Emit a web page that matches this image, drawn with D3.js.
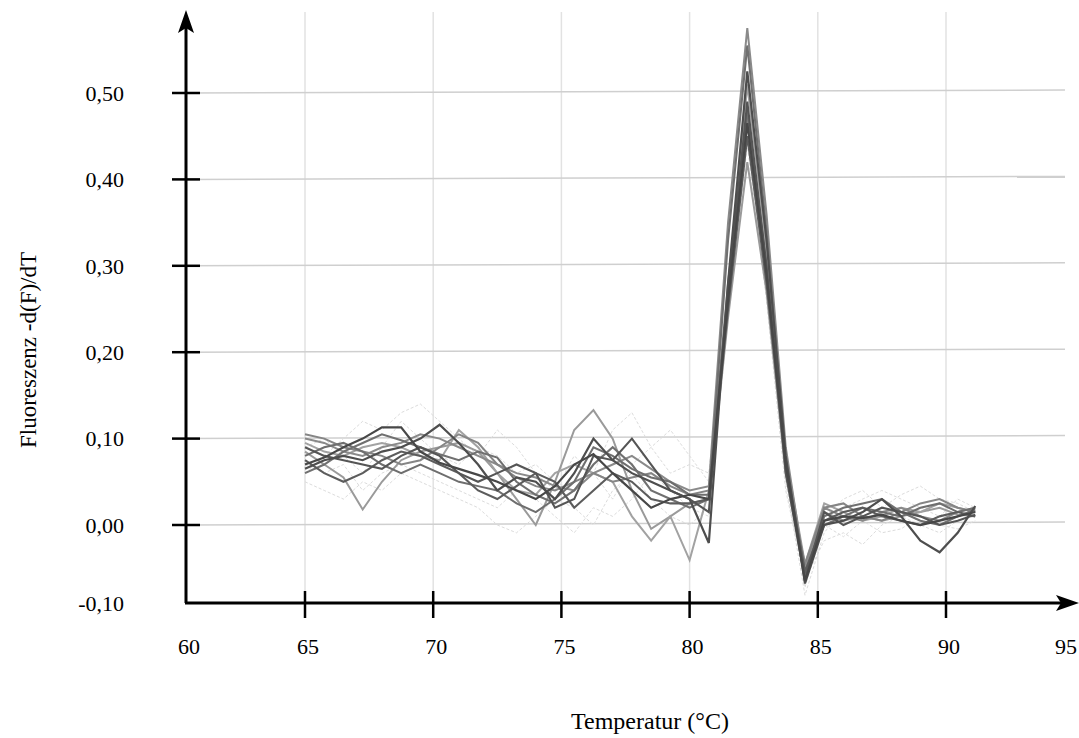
<!DOCTYPE html>
<html>
<head>
<meta charset="utf-8">
<script src="https://cdn.jsdelivr.net/npm/d3@7"></script>
<style>
  body { margin: 0; background: #fff; }
  svg { display: block; }
  text { font-family: "Liberation Serif", "Times New Roman", serif; fill: #000; }
</style>
</head>
<body>
<svg width="1079" height="738"></svg>
<script>
// temperatures (°C) of the measured points
var temps = [65, 65.75, 66.5, 67.25, 68, 68.75, 69.5, 70.25, 71, 71.75, 72.5, 73.25,
  74, 74.75, 75.5, 76.25, 77, 77.75, 78.5, 79.25, 80, 80.75, 81.5, 82.25,
  83, 83.75, 84.5, 85.25, 86, 86.75, 87.5, 88.25, 89, 89.75, 90.5, 91.25];

var xTicks = [60, 65, 70, 75, 80, 85, 90, 95];
var yTicks = [-0.1, 0, 0.1, 0.2, 0.3, 0.4, 0.5];

// melt curves, -d(F)/dT
var s1 = [0.070, 0.078, 0.090, 0.100, 0.113, 0.113, 0.085, 0.072, 0.065, 0.058, 0.050, 0.040, 0.030, 0.045, 0.070, 0.082, 0.060, 0.040, 0.020, 0.030, 0.035, 0.030, 0.26, 0.465, 0.29, 0.07, -0.072, 0.005, 0.010, 0.008, 0.012, 0.005, 0.000, 0.005, 0.010, 0.015];
var s2 = [0.085, 0.070, 0.055, 0.018, 0.050, 0.075, 0.085, 0.090, 0.095, 0.085, 0.060, 0.030, 0.000, 0.050, 0.110, 0.133, 0.100, 0.040, -0.005, 0.010, 0.025, 0.030, 0.24, 0.42, 0.27, 0.06, -0.055, 0.015, 0.005, 0.010, 0.005, 0.010, 0.015, 0.020, 0.012, 0.010];
var s3 = [0.065, 0.075, 0.080, 0.075, 0.085, 0.090, 0.100, 0.116, 0.095, 0.070, 0.040, 0.055, 0.050, 0.030, 0.060, 0.100, 0.075, 0.060, 0.050, 0.040, 0.030, -0.023, 0.28, 0.525, 0.33, 0.08, -0.075, 0.000, 0.005, 0.015, 0.030, 0.010, -0.020, -0.035, -0.010, 0.022];
var s4 = [0.100, 0.095, 0.085, 0.080, 0.090, 0.095, 0.105, 0.100, 0.090, 0.080, 0.070, 0.060, 0.055, 0.045, 0.040, 0.060, 0.070, 0.080, 0.065, 0.050, 0.040, 0.045, 0.35, 0.575, 0.36, 0.09, -0.06, 0.020, 0.010, 0.005, 0.015, 0.020, 0.010, 0.005, 0.015, 0.020];
var s5 = [0.060, 0.070, 0.085, 0.095, 0.105, 0.098, 0.090, 0.082, 0.075, 0.085, 0.078, 0.050, 0.035, 0.025, 0.040, 0.070, 0.090, 0.070, 0.040, 0.030, 0.020, 0.030, 0.33, 0.555, 0.34, 0.07, -0.065, 0.010, 0.020, 0.025, 0.030, 0.015, 0.005, 0.000, 0.010, 0.018];
var s6 = [0.090, 0.080, 0.075, 0.070, 0.065, 0.080, 0.090, 0.080, 0.060, 0.050, 0.060, 0.070, 0.060, 0.020, 0.030, 0.080, 0.075, 0.100, 0.070, 0.040, 0.030, 0.015, 0.27, 0.49, 0.30, 0.06, -0.07, 0.015, 0.000, 0.010, 0.020, 0.015, 0.010, 0.000, 0.005, 0.012];
var s7 = [0.105, 0.100, 0.090, 0.085, 0.080, 0.070, 0.075, 0.090, 0.105, 0.095, 0.070, 0.055, 0.045, 0.040, 0.050, 0.060, 0.050, 0.055, 0.060, 0.045, 0.035, 0.040, 0.26, 0.47, 0.29, 0.06, -0.05, 0.020, 0.025, 0.010, 0.005, 0.015, 0.025, 0.030, 0.020, 0.015];
var s8 = [0.075, 0.060, 0.050, 0.060, 0.075, 0.085, 0.080, 0.070, 0.060, 0.040, 0.030, 0.045, 0.060, 0.050, 0.020, 0.040, 0.060, 0.050, 0.030, 0.025, 0.025, 0.030, 0.25, 0.45, 0.28, 0.07, -0.06, 0.005, 0.015, 0.020, 0.010, 0.005, 0.000, 0.010, 0.015, 0.010];
var s9 = [0.095, 0.085, 0.080, 0.090, 0.095, 0.090, 0.080, 0.075, 0.110, 0.090, 0.060, 0.040, 0.035, 0.060, 0.070, 0.060, 0.050, 0.010, -0.020, 0.010, -0.045, 0.040, 0.26, 0.51, 0.32, 0.08, -0.05, 0.025, 0.015, 0.005, 0.010, 0.020, 0.015, 0.025, 0.020, 0.015];
var s10 = [0.080, 0.090, 0.095, 0.085, 0.070, 0.060, 0.070, 0.060, 0.050, 0.045, 0.040, 0.025, 0.015, 0.030, 0.050, 0.090, 0.080, 0.065, 0.055, 0.050, 0.035, 0.035, 0.28, 0.48, 0.30, 0.07, -0.06, 0.000, 0.010, 0.020, 0.015, 0.010, 0.020, 0.025, 0.015, 0.020];
// faint background curves
var f1 = [0.060, 0.080, 0.100, 0.120, 0.110, 0.130, 0.140, 0.120, 0.100, 0.080, 0.110, 0.090, 0.060, 0.040, 0.080, 0.060, 0.030, 0.070, 0.090, 0.110, 0.080, 0.050, 0.26, 0.47, 0.28, 0.05, -0.09, -0.010, 0.020, 0.030, 0.040, 0.030, 0.020, 0.010, 0.030, 0.020];
var f2 = [0.050, 0.040, 0.030, 0.050, 0.040, 0.060, 0.050, 0.040, 0.030, 0.020, 0.000, -0.010, 0.010, 0.030, 0.020, 0.000, 0.040, 0.060, 0.030, 0.010, 0.000, 0.020, 0.25, 0.46, 0.27, 0.05, -0.07, -0.020, -0.010, -0.025, 0.000, 0.010, 0.000, -0.010, 0.005, 0.010];
var f3 = [0.090, 0.100, 0.080, 0.060, 0.090, 0.120, 0.100, 0.080, 0.070, 0.090, 0.080, 0.060, 0.070, 0.050, 0.040, 0.060, 0.110, 0.130, 0.090, 0.060, 0.070, 0.060, 0.27, 0.48, 0.29, 0.06, -0.08, 0.010, 0.030, 0.040, 0.020, 0.035, 0.045, 0.030, 0.025, 0.015];
var f4 = [0.070, 0.060, 0.070, 0.040, 0.060, 0.070, 0.060, 0.050, 0.040, 0.030, 0.020, 0.040, 0.030, 0.010, -0.010, 0.020, 0.010, 0.030, 0.060, 0.040, 0.020, 0.010, 0.24, 0.44, 0.26, 0.04, -0.07, 0.000, -0.015, 0.005, -0.010, -0.005, 0.010, 0.000, -0.005, 0.005];

var faint = [f1, f2, f3, f4];
var curves = [
  {v: s2, c: "#9a9a9a", w: 2},
  {v: s9, c: "#a2a2a2", w: 2},
  {v: s4, c: "#8a8a8a", w: 2},
  {v: s7, c: "#858585", w: 2},
  {v: s10, c: "#6e6e6e", w: 2},
  {v: s5, c: "#707070", w: 2.1},
  {v: s8, c: "#5c5c5c", w: 2.1},
  {v: s6, c: "#555", w: 2.1},
  {v: s3, c: "#4e4e4e", w: 2.2},
  {v: s1, c: "#474747", w: 2.2}
];

var svg = d3.select("svg");

var x = d3.scaleLinear().domain([60, 65, 90, 95]).range([186, 305, 946, 1063]);
var y = d3.scaleLinear().domain([-0.1, 0, 0.5]).range([603, 525, 93]);

var fmt = function(d) { return d3.format(".2f")(d).replace(".", ",").replace("−", "-"); };

// grid
svg.append("g")
  .selectAll("line")
  .data(xTicks.filter(d => d > 60 && d < 95))
  .enter().append("line")
  .attr("x1", d => x(d)).attr("x2", d => x(d))
  .attr("y1", 12).attr("y2", 603)
  .attr("stroke", "#e2e2e2").attr("stroke-width", 1.5);

svg.append("g")
  .selectAll("line")
  .data(yTicks.filter(d => d >= 0))
  .enter().append("line")
  .attr("x1", 186).attr("x2", 1065)
  .attr("y1", d => y(d)).attr("y2", d => y(d) - 3)
  .attr("stroke", "#cfcfcf").attr("stroke-width", 1.5);

var line = d3.line()
  .x((d, i) => x(temps[i]))
  .y(d => y(d));

svg.append("g")
  .selectAll("path")
  .data(faint)
  .enter().append("path")
  .attr("d", line)
  .attr("fill", "none")
  .attr("stroke", "#dcdcdc")
  .attr("stroke-width", 1)
  .attr("stroke-dasharray", "3,2");

svg.append("g")
  .selectAll("path")
  .data(curves)
  .enter().append("path")
  .attr("d", d => line(d.v))
  .attr("fill", "none")
  .attr("stroke", d => d.c)
  .attr("stroke-width", d => d.w)
  .attr("stroke-linejoin", "miter");

// axes with arrows
svg.append("line")
  .attr("x1", 186).attr("y1", 603).attr("x2", 186).attr("y2", 22)
  .attr("stroke", "#000").attr("stroke-width", 3);
svg.append("path")
  .attr("d", "M186,10 L178,33 L186,28 L194,33 Z")
  .attr("fill", "#000");
svg.append("line")
  .attr("x1", 185).attr("y1", 603).attr("x2", 1068).attr("y2", 603)
  .attr("stroke", "#000").attr("stroke-width", 3);
svg.append("path")
  .attr("d", "M1079,603 L1056,595 L1061,603 L1056,611 Z")
  .attr("fill", "#000");

// ticks
svg.append("g")
  .selectAll("line")
  .data(yTicks.filter(d => d >= 0))
  .enter().append("line")
  .attr("x1", 172).attr("x2", 200)
  .attr("y1", d => y(d)).attr("y2", d => y(d))
  .attr("stroke", "#000").attr("stroke-width", 2.5);

svg.append("g")
  .selectAll("line")
  .data(xTicks.filter(d => d > 60 && d < 95))
  .enter().append("line")
  .attr("x1", d => x(d)).attr("x2", d => x(d))
  .attr("y1", 591).attr("y2", 618)
  .attr("stroke", "#000").attr("stroke-width", 2.5);

// tick labels
svg.append("g")
  .selectAll("text")
  .data(yTicks)
  .enter().append("text")
  .attr("x", 124)
  .attr("y", d => y(d))
  .attr("dy", "0.35em")
  .attr("text-anchor", "end")
  .attr("font-size", 22)
  .text(fmt);

svg.append("g")
  .selectAll("text")
  .data(xTicks)
  .enter().append("text")
  .attr("x", d => x(d) + 3)
  .attr("y", 654)
  .attr("text-anchor", "middle")
  .attr("font-size", 22)
  .text(d => d);

// axis titles
svg.append("text")
  .attr("x", 650).attr("y", 729)
  .attr("text-anchor", "middle")
  .attr("font-size", 24)
  .text("Temperatur (°C)");

svg.append("text")
  .attr("transform", "translate(36,350) rotate(-90)")
  .attr("text-anchor", "middle")
  .attr("font-size", 23)
  .text("Fluoreszenz -d(F)/dT");
</script>
</body>
</html>
